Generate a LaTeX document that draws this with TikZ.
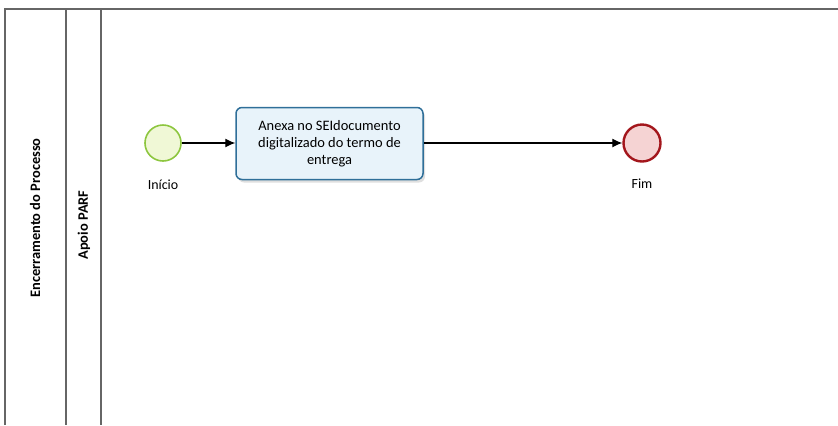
\documentclass[tikz,border=0pt]{standalone}
\usepackage{fontspec}
\setmainfont{Carlito}
\usetikzlibrary{arrows.meta,shadows}
\definecolor{startline}{HTML}{8DC63F}
\definecolor{startfill}{HTML}{F0F8D6}
\definecolor{endline}{HTML}{A3161C}
\definecolor{endfill}{HTML}{F5D3D3}
\definecolor{taskline}{HTML}{2F6F99}
\definecolor{taskfill}{HTML}{E8F3FA}
\begin{document}
\begin{tikzpicture}[x=1bp,y=-1bp,
  lane/.style={draw=black!60,line width=1.3bp},
  startev/.style={circle,draw=startline,line width=1.6bp,fill=startfill,minimum size=36bp,inner sep=0pt},
  endev/.style={circle,draw=endline,line width=2.4bp,fill=endfill,minimum size=37bp,inner sep=0pt},
  taskbox/.style={rectangle,rounded corners=6bp,draw=taskline,line width=1.5bp,fill=taskfill,
    minimum width=187bp,minimum height=72bp,align=center,font=\fontsize{14.5}{17}\selectfont,
    drop shadow={shadow xshift=2bp,shadow yshift=-3bp,opacity=0.25}},
  evlabel/.style={font=\fontsize{14}{16}\selectfont},
  lanelabel/.style={rotate=90,font=\bfseries\fontsize{14.5}{16}\selectfont},
  flow/.style={-{Latex[length=10bp,width=9bp]},line width=1.1bp}]
\useasboundingbox (0,0) rectangle (838,425);
% pool and lane borders
\draw[lane] (5,425) -- (5,9) -- (838,9);
\draw[lane] (66,9) -- (66,425);
\draw[lane] (101,9) -- (101,425);
\node[lanelabel] (pool) at (35,218) {Encerramento do Processo};
\node[lanelabel] (lane) at (84,225) {Apoio PARF};
% flow elements
\node[startev] (ini) at (163,143) {};
\node[evlabel] (inilbl) at (163,185) {Início};
\node[taskbox] (task) at (329.5,143.5) {Anexa no SEIdocumento\\digitalizado do termo de\\entrega};
\node[endev] (fim) at (642,143) {};
\node[evlabel] (fimlbl) at (642,184) {Fim};
\draw[flow] (ini.east) -- (task.west |- ini);
\draw[flow] (task.east |- fim) -- (fim.west);
\end{tikzpicture}
\end{document}
